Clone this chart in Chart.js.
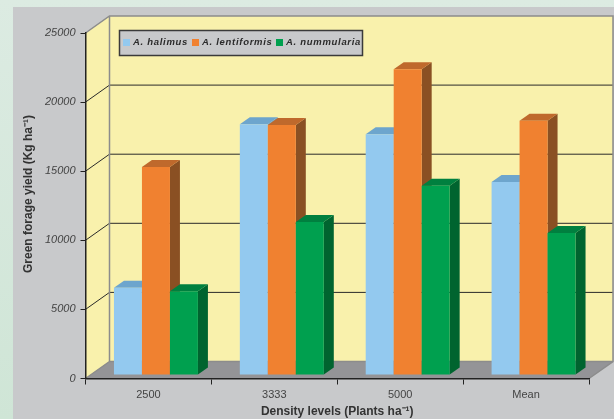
<!DOCTYPE html>
<html>
<head>
<meta charset="utf-8">
<title>Green forage yield</title>
<script src="https://cdn.jsdelivr.net/npm/chart.js@4/dist/chart.umd.min.js"></script>
<style>
    html, body { margin: 0; padding: 0; height: 100%; overflow: hidden; }
    body { background: linear-gradient(180deg, #dcebe2 0%, #cfe5d6 100%); }
    canvas { display: block; position: absolute; left: 0; top: 0; }
</style>
</head>
<body>
<canvas id="yieldChart" width="614" height="419"></canvas>
<script>
// Data
const categories = ['2500', '3333', '5000', 'Mean'];
const speciesNames = ['A. halimus', 'A. lentiformis', 'A. nummularia'];
const halimusValues = [6320, 18140, 17420, 13970];
const lentiformisValues = [15050, 18090, 22120, 18400];
const nummulariaValues = [6060, 11070, 13700, 10280];
const yTicks = [0, 5000, 10000, 15000, 20000, 25000];

// Colours per species: front, top face, side face
const frontColors = ['#93c9ef', '#f08130', '#00a04f'];
const topColors = ['#6da5cd', '#bf692c', '#00803f'];
const sideColors = ['#6f9cbd', '#8a5023', '#00642f'];

// Fake 3D box: how far the back wall sits from the front axes
const wallX = 24;
const wallY = 17;
// Bars stand a little way in from the front edge of the floor
const barShiftX = 7.5;
const barShiftY = 3.5;
const barDepthX = 10;
const barDepthY = 7;

// Gray panel, walls, floor and gridlines
const wallsPlugin = {
    id: 'walls',
    beforeDraw(chart) {
        const { ctx, chartArea: a, scales: { y } } = chart;
        const poly = (pts, fill) => {
            ctx.beginPath();
            pts.forEach((p, i) => i ? ctx.lineTo(p[0], p[1]) : ctx.moveTo(p[0], p[1]));
            ctx.closePath();
            ctx.fillStyle = fill;
            ctx.fill();
        };
        ctx.save();
        ctx.fillStyle = '#c8c9cb';
        ctx.fillRect(13, 7, chart.width - 13, chart.height - 7);

        // back wall and left wall
        poly([[a.left + wallX, a.top - wallY], [a.right + wallX, a.top - wallY],
              [a.right + wallX, a.bottom - wallY], [a.left + wallX, a.bottom - wallY]], '#f9f1ac');
        poly([[a.left, a.top], [a.left + wallX, a.top - wallY],
              [a.left + wallX, a.bottom - wallY], [a.left, a.bottom]], '#f9f1ac');
        // floor
        poly([[a.left, a.bottom], [a.left + wallX, a.bottom - wallY],
              [a.right + wallX, a.bottom - wallY], [a.right, a.bottom]], '#949497');

        // gridlines run along the left wall then across the back
        ctx.lineWidth = 1;
        ctx.strokeStyle = '#2a2a2a';
        yTicks.forEach(v => {
            if (v === 0 || v === 25000) return;
            const py = y.getPixelForValue(v);
            ctx.beginPath();
            ctx.moveTo(a.left, py);
            ctx.lineTo(a.left + wallX, py - wallY);
            ctx.lineTo(a.right + wallX, py - wallY);
            ctx.stroke();
        });

        // gray frame around the walls
        ctx.strokeStyle = '#8c8c8c';
        ctx.lineWidth = 1.5;
        ctx.beginPath();
        ctx.moveTo(a.left, a.top);
        ctx.lineTo(a.left + wallX, a.top - wallY);
        ctx.lineTo(a.right + wallX, a.top - wallY);
        ctx.lineTo(a.right + wallX, a.bottom - wallY);
        ctx.lineTo(a.right, a.bottom);
        ctx.moveTo(a.left + wallX, a.top - wallY);
        ctx.lineTo(a.left + wallX, a.bottom - wallY);
        ctx.lineTo(a.right + wallX, a.bottom - wallY);
        ctx.moveTo(a.left, a.bottom);
        ctx.lineTo(a.left + wallX, a.bottom - wallY);
        ctx.stroke();
        ctx.restore();
    }
};

// Each bar gets its side and top faces, then the front from Chart.js itself
const boxBarsPlugin = {
    id: 'boxBars',
    beforeDatasetsDraw(chart) {
        const ctx = chart.ctx;
        ctx.save();
        ctx.translate(barShiftX, -barShiftY);
        chart.data.datasets.forEach((ds, i) => {
            chart.getDatasetMeta(i).data.forEach(bar => {
                const p = bar.getProps(['x', 'y', 'base', 'width'], true);
                const l = p.x - p.width / 2;
                const r = p.x + p.width / 2;
                ctx.fillStyle = sideColors[i];
                ctx.beginPath();
                ctx.moveTo(r, p.y);
                ctx.lineTo(r + barDepthX, p.y - barDepthY);
                ctx.lineTo(r + barDepthX, p.base - barDepthY);
                ctx.lineTo(r, p.base);
                ctx.closePath();
                ctx.fill();
                ctx.fillStyle = topColors[i];
                ctx.beginPath();
                ctx.moveTo(l, p.y);
                ctx.lineTo(l + barDepthX, p.y - barDepthY);
                ctx.lineTo(r + barDepthX, p.y - barDepthY);
                ctx.lineTo(r, p.y);
                ctx.closePath();
                ctx.fill();
                bar.draw(ctx);
            });
        });
        ctx.restore();
        return false;
    }
};

// Boxed legend inside the back wall, and the y title which sits above the axis middle
const legendBoxPlugin = {
    id: 'legendBox',
    afterDraw(chart) {
        const ctx = chart.ctx;
        ctx.save();
        ctx.fillStyle = '#c8c9cb';
        ctx.fillRect(119.5, 30.5, 243, 25);
        ctx.strokeStyle = '#3a3a3a';
        ctx.lineWidth = 1.5;
        ctx.strokeRect(119.5, 30.5, 243, 25);
        ctx.font = 'italic bold 9.5px "Liberation Sans"';
        ctx.textBaseline = 'middle';
        ctx.letterSpacing = '0.7px';
        const swatchX = [123, 192, 276];
        speciesNames.forEach((name, i) => {
            ctx.fillStyle = frontColors[i];
            ctx.fillRect(swatchX[i], 39, 7, 7);
            ctx.fillStyle = '#2b2b2b';
            ctx.fillText(name, swatchX[i] + 10, 42);
        });
        ctx.restore();

        ctx.save();
        ctx.translate(29, 194);
        ctx.rotate(-Math.PI / 2);
        ctx.font = 'bold 12px "Liberation Sans"';
        ctx.fillStyle = '#333';
        ctx.textAlign = 'center';
        ctx.textBaseline = 'middle';
        ctx.fillText('Green forage yield (Kg ha\u207B\u00B9)', 0, 0);
        ctx.restore();
    }
};

new Chart(document.getElementById('yieldChart'), {
    type: 'bar',
    data: {
        labels: categories,
        datasets: [
            { label: speciesNames[0], data: halimusValues, backgroundColor: frontColors[0] },
            { label: speciesNames[1], data: lentiformisValues, backgroundColor: frontColors[1] },
            { label: speciesNames[2], data: nummulariaValues, backgroundColor: frontColors[2] }
        ]
    },
    options: {
        responsive: false,
        animation: false,
        events: [],
        layout: { padding: { top: 33, bottom: 0, left: 0, right: 25 } },
        categoryPercentage: 0.667,
        barPercentage: 1,
        plugins: { legend: { display: false }, tooltip: { enabled: false } },
        scales: {
            x: {
                afterFit: s => { s.height = 40.5; },
                grid: { offset: true, drawOnChartArea: false, color: '#222', tickLength: 6 },
                border: { color: '#222', width: 1.5 },
                ticks: { color: '#444', font: { family: 'Liberation Sans', size: 11 }, padding: 4 },
                title: {
                    display: true,
                    text: 'Density levels (Plants ha\u207B\u00B9)',
                    color: '#333',
                    font: { family: 'Liberation Sans', size: 12, weight: 'bold' },
                    padding: { top: 6, bottom: 0 }
                }
            },
            y: {
                min: 0,
                max: 25000,
                afterFit: s => { s.width = 85.5; },
                afterBuildTicks: s => { s.ticks = yTicks.map(v => ({ value: v })); },
                grid: { drawOnChartArea: false, color: '#222', tickLength: 5 },
                border: { color: '#222', width: 1.5 },
                ticks: {
                    color: '#444',
                    padding: 5,
                    font: { family: 'Liberation Sans', size: 11, style: 'italic' },
                    callback: v => String(v)
                }
            }
        }
    },
    plugins: [wallsPlugin, boxBarsPlugin, legendBoxPlugin]
});
</script>
</body>
</html>
